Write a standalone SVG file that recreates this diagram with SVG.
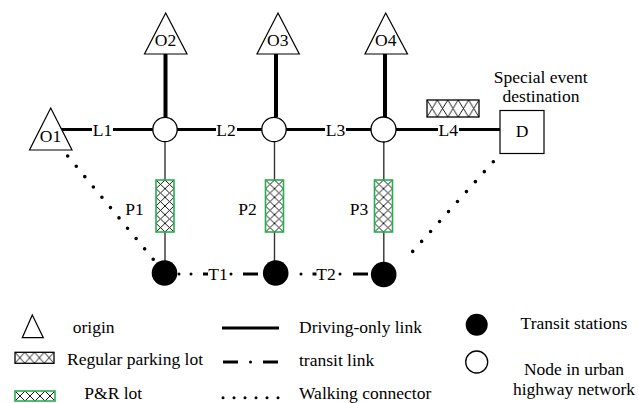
<svg xmlns="http://www.w3.org/2000/svg" width="639" height="403" viewBox="0 0 639 403">
<style>
text{font-family:"Liberation Serif","Times New Roman",serif;font-size:17.5px;fill:#000}
.c{text-anchor:middle}
.tri{fill:#fff;stroke:#000;stroke-width:1.2}
.node{fill:#fff;stroke:#000;stroke-width:1.3}
.sta{fill:#000}
.drive{stroke:#000;stroke-width:3.2;fill:none}
.odrive{stroke:#000;stroke-width:4;fill:none}
.thin{stroke:#333;stroke-width:1.4;fill:none}
.walk{stroke:#000;stroke-width:3.6;stroke-linecap:round;stroke-dasharray:0 13.4;fill:none}
.pr{stroke:#22b14c;stroke-width:1.6}
.pk{stroke:#000;stroke-width:1.3}
.bg{fill:#fff}
</style>
<defs>
<pattern id="hPR" patternUnits="objectBoundingBox" width="0.5" height="0.1667">
<path d="M0 0L9 8.67M9 0L0 8.67" stroke="#000" stroke-width="0.9"/>
</pattern>
<pattern id="hPK" patternUnits="objectBoundingBox" width="0.2" height="1">
<path d="M0 0L10.4 17M10.4 0L0 17" stroke="#000" stroke-width="0.9"/>
</pattern>
<pattern id="hLG" patternUnits="objectBoundingBox" width="0.25" height="1">
<path d="M0 0L9.75 11M9.75 0L0 11" stroke="#000" stroke-width="0.9"/>
</pattern>
<pattern id="hLG2" patternUnits="objectBoundingBox" width="0.25" height="1">
<path d="M0 0L10 10M10 0L0 10" stroke="#000" stroke-width="0.9"/>
</pattern>
</defs>

<g id="connectors">
<line class="drive" x1="61" y1="129.5" x2="153" y2="129.5"/>
<line class="drive" x1="177" y1="129.5" x2="262" y2="129.5"/>
<line class="drive" x1="286" y1="129.5" x2="371" y2="129.5"/>
<line class="drive" x1="396" y1="129.5" x2="500" y2="129.5"/>
<line class="odrive" x1="165.5" y1="54" x2="165.5" y2="117"/>
<line class="odrive" x1="276" y1="54" x2="276" y2="117"/>
<line class="odrive" x1="385" y1="54" x2="385" y2="117"/>
<line class="thin" x1="165" y1="142" x2="165" y2="262"/>
<line class="thin" x1="274.5" y1="142" x2="274.5" y2="262"/>
<line class="thin" x1="383.8" y1="142" x2="383.8" y2="262"/>
<line class="walk" x1="67.7" y1="156" x2="153.3" y2="259.3"/>
<line class="walk" x1="493.3" y1="161.7" x2="404.3" y2="260.7"/>
<g fill="#000">
<circle cx="179" cy="274" r="1.5"/>
<circle cx="191" cy="274" r="1.5"/>
<circle cx="231" cy="274" r="1.5"/>
<circle cx="301" cy="274" r="1.5"/>
<circle cx="340" cy="274" r="1.5"/>
</g>
<path d="M203 274H208M243 274H258M312.5 274H316.5M353 274H368" stroke="#000" stroke-width="3"/>
<rect class="bg" x="92" y="122" width="21" height="15"/>
<text class="c" x="102.5" y="135.5">L1</text>
<rect class="bg" x="216" y="122" width="21" height="15"/>
<text class="c" x="226" y="135.5">L2</text>
<rect class="bg" x="325" y="122" width="21" height="15"/>
<text class="c" x="335.5" y="135.5">L3</text>
<rect class="bg" x="438" y="122" width="21" height="15"/>
<text class="c" x="448.3" y="135.5">L4</text>
<text class="c" x="218" y="279.5">T1</text>
<text class="c" x="326" y="279.5">T2</text>
</g>

<g id="O1"><polygon class="tri" points="50.7,108 72,150 29.5,150"/><text class="c" x="50.5" y="141.5">O1</text></g>
<g id="O2"><polygon class="tri" points="165.7,13 187,54 144.5,54"/><text class="c" x="165.5" y="45.5">O2</text></g>
<g id="O3"><polygon class="tri" points="278,13 299.3,54 257,54"/><text class="c" x="277.8" y="45.5">O3</text></g>
<g id="O4"><polygon class="tri" points="385.7,13 407.5,54 365,54"/><text class="c" x="385.8" y="45.5">O4</text></g>

<g id="N1"><circle class="node" cx="165" cy="129.5" r="12.2"/></g>
<g id="N2"><circle class="node" cx="274" cy="129.5" r="12.2"/></g>
<g id="N3"><circle class="node" cx="383.5" cy="129.5" r="12.5"/></g>

<g id="D"><rect x="500" y="110.5" width="44" height="43" fill="#fff" stroke="#000" stroke-width="1.2"/><text class="c" x="522" y="137">D</text>
<text class="c" x="540.7" y="83">Special event</text><text class="c" x="541" y="102">destination</text></g>

<g id="parking"><rect x="427" y="100" width="52" height="17" fill="url(#hPK)" class="pk"/></g>

<g id="P1"><rect x="156" y="180" width="18" height="52" fill="#fff"/><rect x="156" y="180" width="18" height="52" fill="url(#hPR)" class="pr"/><text class="c" x="134.5" y="215">P1</text></g>
<g id="P2"><rect x="265.5" y="180" width="18" height="52" fill="#fff"/><rect x="265.5" y="180" width="18" height="52" fill="url(#hPR)" class="pr"/><text class="c" x="247.5" y="215">P2</text></g>
<g id="P3"><rect x="374.5" y="180" width="18" height="52" fill="#fff"/><rect x="374.5" y="180" width="18" height="52" fill="url(#hPR)" class="pr"/><text class="c" x="359" y="215">P3</text></g>

<g id="T_st1"><circle class="sta" cx="164.5" cy="273" r="12.8"/></g>
<g id="T_st2"><circle class="sta" cx="275.7" cy="273" r="12.8"/></g>
<g id="T_st3"><circle class="sta" cx="383.7" cy="274.5" r="12.8"/></g>

<g id="legend">
<polygon class="tri" points="32.3,315 43.3,337.7 22.3,337.7"/>
<text x="72.7" y="333">origin</text>
<rect x="15" y="352.3" width="39" height="11" fill="url(#hLG)" class="pk"/>
<text x="67" y="365">Regular parking lot</text>
<rect x="15" y="391" width="40" height="10" fill="url(#hLG2)" class="pr"/>
<text x="84.3" y="398.5">P&amp;R lot</text>
<line x1="222" y1="328" x2="279" y2="328" stroke="#000" stroke-width="3"/>
<path d="M223 362H238M263 362H278" stroke="#000" stroke-width="3"/>
<circle cx="250.5" cy="362" r="1.5"/>
<g fill="#000">
<circle cx="223" cy="397.7" r="1.5"/><circle cx="234" cy="397.7" r="1.5"/><circle cx="245" cy="397.7" r="1.5"/>
<circle cx="256" cy="397.7" r="1.5"/><circle cx="267" cy="397.7" r="1.5"/><circle cx="278" cy="397.7" r="1.5"/>
</g>
<text x="299" y="333">Driving-only link</text>
<text x="299" y="365.5">transit link</text>
<text x="299" y="398.5">Walking connector</text>
<circle class="sta" cx="476.7" cy="324.7" r="11"/>
<circle class="node" cx="476.7" cy="362" r="11"/>
<text class="c" x="574" y="329">Transit stations</text>
<text class="c" x="574" y="375">Node in urban</text>
<text class="c" x="574" y="395">highway network</text>
</g>
</svg>
